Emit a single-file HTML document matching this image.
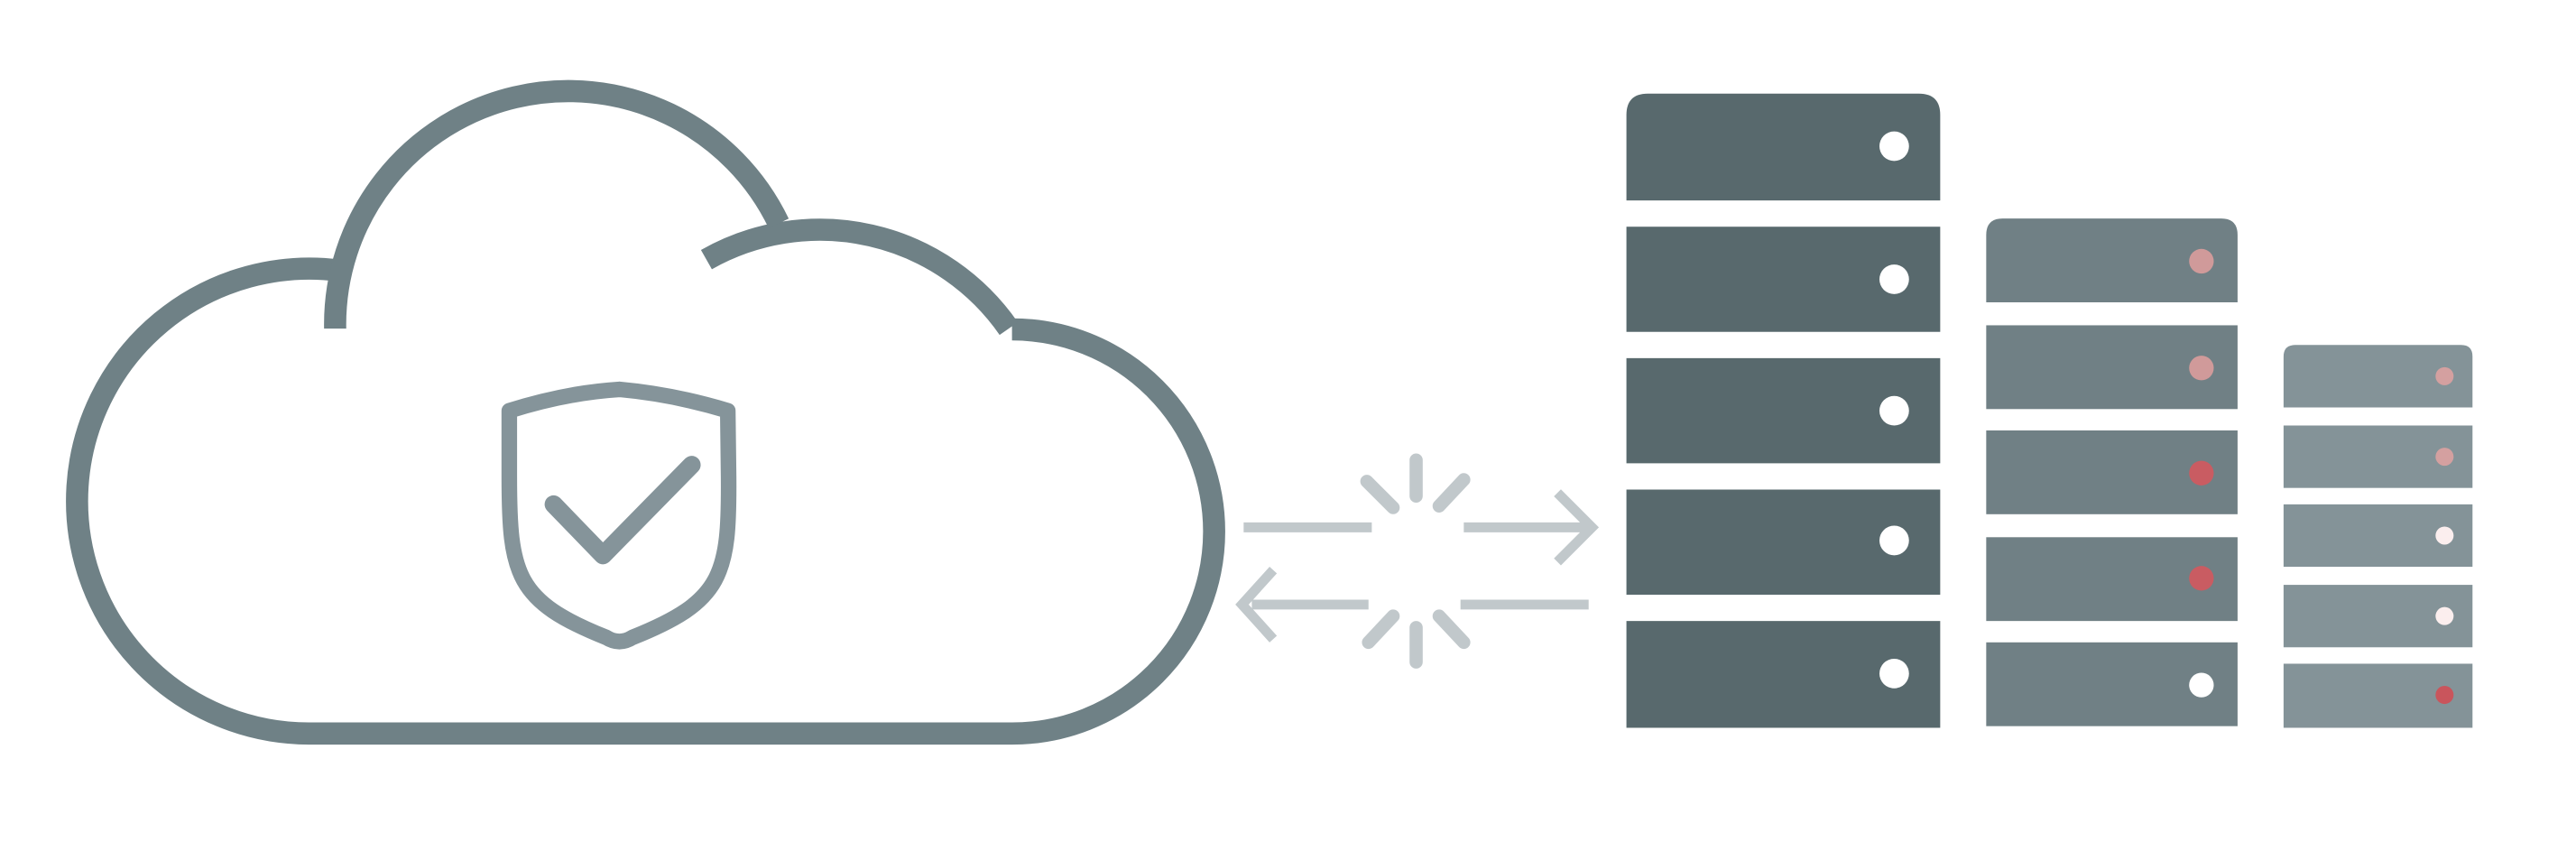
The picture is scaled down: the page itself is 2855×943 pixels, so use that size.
<!DOCTYPE html>
<html><head><meta charset="utf-8"><style>html,body{margin:0;padding:0;background:#fff;}svg{display:block;}</style></head>
<body>
<svg width="2855" height="943" viewBox="0 0 1568 518" preserveAspectRatio="none" xmlns="http://www.w3.org/2000/svg">
<rect width="1568" height="518" fill="#fff"/>
<g fill="none" stroke="#6f8186" stroke-width="13.5">
<path d="M206 164.6 A141.5 141.5 0 1 0 188 446.5 L616 446.5 A123 123 0 1 0 616 200.5"/>
<path d="M614 200 A140 140 0 0 0 430 158"/>
<path d="M204 200 L204 199.5 A142 142 0 0 1 474 136"/>
</g>
<g fill="none" stroke="#85949a" stroke-linecap="round" stroke-linejoin="round">
<path d="M310 250 Q345 239 377 237 Q410 240 443 250 L443.5 290 C444 350 440 366 385 388 Q377 393 369 388 C314 366 310 350 310 290 Z" stroke-width="9.5"/>
<path d="M337 307 L367 338 L421 283" stroke-width="11"/>
</g>
<g stroke="#c1c8cb" fill="none" stroke-width="6">
<path d="M757 321 H835 M891 321 H968 M948 300 L969 321 L948 342"/>
<path d="M762 368 H833 M889 368 H967 M775 347 L756 368 L775 389"/>
</g>
<g stroke="#c1c8cb" stroke-width="8" stroke-linecap="round">
<path d="M862 280 V302 M832 293 L848 309 M891 292 L876 308"/>
<path d="M862 382 V403 M848 375 L833 391 M876 375 L891 391"/>
</g>
<g fill="#58696d">
<path d="M990 122 V70 Q990 57 1003 57 H1168 Q1181 57 1181 70 V122 Z"/>
<rect x="990" y="138" width="191" height="64"/>
<rect x="990" y="218" width="191" height="64"/>
<rect x="990" y="298" width="191" height="64"/>
<rect x="990" y="378" width="191" height="65"/>
</g>
<g fill="#fff"><circle cx="1153" cy="89" r="9"/><circle cx="1153" cy="170" r="9"/><circle cx="1153" cy="250" r="9"/><circle cx="1153" cy="329" r="9"/><circle cx="1153" cy="410" r="9"/></g>
<g fill="#708085">
<path d="M1209 184 V143 Q1209 133 1219 133 H1352 Q1362 133 1362 143 V184 Z"/>
<rect x="1209" y="198" width="153" height="51"/>
<rect x="1209" y="262" width="153" height="51"/>
<rect x="1209" y="327" width="153" height="51"/>
<rect x="1209" y="391" width="153" height="51"/>
</g>
<circle cx="1340" cy="159" r="7.5" fill="#d09a9a"/><circle cx="1340" cy="224" r="7.5" fill="#d09a9a"/><circle cx="1340" cy="288" r="7.5" fill="#c95c62"/><circle cx="1340" cy="352" r="7.5" fill="#c95c62"/><circle cx="1340" cy="417" r="7.5" fill="#fff"/>
<g fill="#849398">
<path d="M1390 248 V217 Q1390 210 1397 210 H1498 Q1505 210 1505 217 V248 Z"/>
<rect x="1390" y="259" width="115" height="38"/>
<rect x="1390" y="307" width="115" height="38"/>
<rect x="1390" y="356" width="115" height="38"/>
<rect x="1390" y="404" width="115" height="39"/>
</g>
<circle cx="1488" cy="229" r="5.5" fill="#d4a0a0"/><circle cx="1488" cy="278" r="5.5" fill="#d4a0a0"/><circle cx="1488" cy="326" r="5.5" fill="#fbeeee"/><circle cx="1488" cy="375" r="5.5" fill="#fbeeee"/><circle cx="1488" cy="423" r="5.5" fill="#c9555c"/>
</svg>
</body></html>
